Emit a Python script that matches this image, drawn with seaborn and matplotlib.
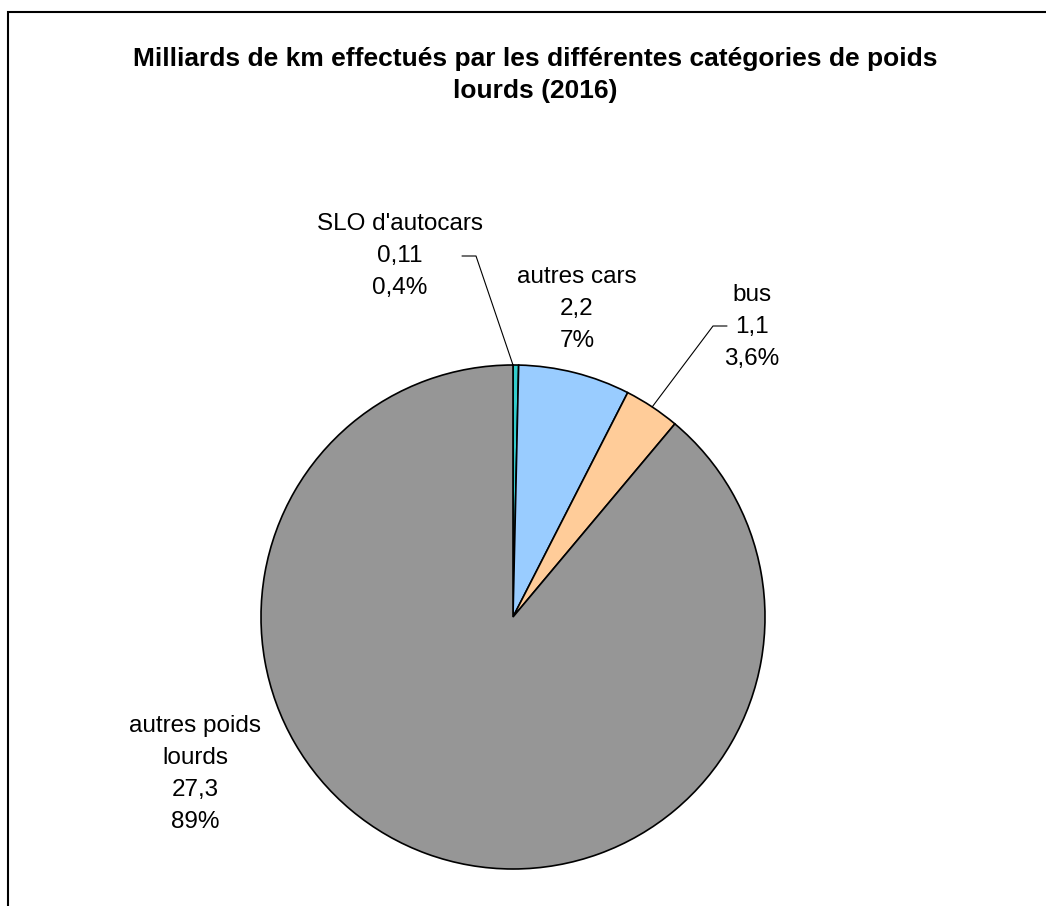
import numpy as np
import matplotlib
matplotlib.use("Agg")
import matplotlib.pyplot as plt
import seaborn as sns
from matplotlib.patches import Rectangle

categories = ["SLO d'autocars", "autres cars", "bus", "autres poids\nlourds"]
values = [0.11, 2.2, 1.1, 27.3]
value_labels = ["0,11", "2,2", "1,1", "27,3"]
pct_labels = ["0,4%", "7%", "3,6%", "89%"]
colors = ["#33CCCC", "#99CCFF", "#FFCC99", "#969696"]
title = "Milliards de km effectués par les différentes catégories de poids\nlourds (2016)"

sns.set_theme(style="white")
plt.rcParams['font.family'] = ['Liberation Sans', 'DejaVu Sans']
plt.rcParams['text.color'] = 'black'

W, H = 1046, 906
fig = plt.figure(figsize=(W / 100, H / 100), dpi=100)
ax = fig.add_axes([0, 0, 1, 1])

cx, cy, R = 513, 617, 252  # pie centre / radius in pixels
def px(x, y):
    return ((x - cx) / R, (cy - y) / R)

wedges, _ = ax.pie(values, colors=colors, startangle=90, counterclock=False,
                   wedgeprops=dict(edgecolor="black", linewidth=1.2))
ax.set_xlim((0 - cx) / R, (W - cx) / R)
ax.set_ylim((cy - H) / R, (cy - 0) / R)
ax.set_aspect("auto")
ax.axis("off")

# label positions (pixel centres) and optional leader line anchors
label_pos = [(400, 256), (577, 309), (752, 327), (195, 774)]
leaders = [((462, 256), (476, 256)), None, ((727, 326), (713, 326)), None]

for i, w in enumerate(wedges):
    txt = f"{categories[i]}\n{value_labels[i]}\n{pct_labels[i]}"
    x, y = px(*label_pos[i])
    ax.text(x, y, txt, ha="center", va="center", fontsize=17.5,
            linespacing=1.6, color="black")
    if leaders[i] is not None:
        a, b = leaders[i]
        ang = np.deg2rad(w.theta2 if i == 0 else (w.theta1 + w.theta2) / 2)
        ex, ey = np.cos(ang), np.sin(ang)
        p1 = px(*a)
        p2 = px(*b)
        ax.plot([p1[0], p2[0], ex], [p1[1], p2[1], ey], color="black", lw=0.8)

fig.text(535 / W, 1 - 75 / H, title, ha="center", va="center", fontsize=19,
         fontweight="bold", linespacing=1.45, color="black")

fig.add_artist(Rectangle((8 / W, -0.1), 1.2, 0.1 + (H - 12) / H,
                         transform=fig.transFigure, fill=False,
                         edgecolor="black", linewidth=1.5))

fig.savefig("out.png", dpi=100)
